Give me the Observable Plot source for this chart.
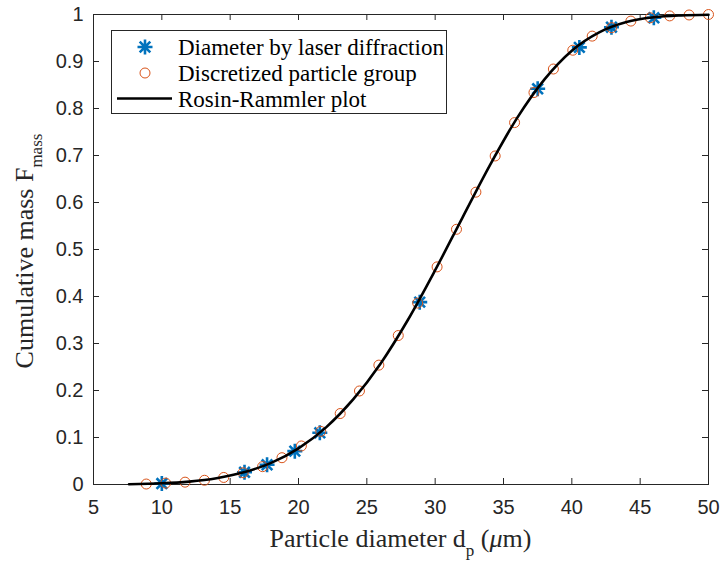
<!DOCTYPE html>
<html>
<head>
<meta charset="utf-8">
<script src="https://cdn.jsdelivr.net/npm/d3@7"></script>
<script src="https://cdn.jsdelivr.net/npm/@observablehq/plot@0.6"></script>
<style>
  html, body { margin: 0; padding: 0; background: white; }
  #chart { width: 725px; height: 565px; }
</style>
</head>
<body>
<div id="chart"></div>
<script>
// ---- Data ----
const xTicks = [5, 10, 15, 20, 25, 30, 35, 40, 45, 50];
const yTicks = [0, 0.1, 0.2, 0.3, 0.4, 0.5, 0.6, 0.7, 0.8, 0.9, 1];

// Diameter by laser diffraction (blue asterisks)
const laserX = [10.0, 16.05, 17.7, 19.73, 21.56, 28.87, 37.5, 40.55, 42.9, 46.0];
const laserY = [0.002, 0.026, 0.042, 0.071, 0.110, 0.388, 0.842, 0.930, 0.973, 0.993];

// Discretized particle group (orange open circles)
const groupX = [8.86, 10.28, 11.70, 13.12, 14.53, 15.95, 17.37, 18.79, 20.21, 21.63,
                23.05, 24.46, 25.88, 27.30, 28.72, 30.14, 31.56, 32.98, 34.39, 35.81,
                37.23, 38.65, 40.07, 41.49, 42.91, 44.32, 45.74, 47.16, 48.58, 50.00];
const groupY = [0.001, 0.003, 0.005, 0.009, 0.015, 0.025, 0.038, 0.057, 0.082, 0.113,
                0.151, 0.199, 0.254, 0.317, 0.386, 0.463, 0.543, 0.622, 0.699, 0.770,
                0.834, 0.884, 0.924, 0.954, 0.972, 0.986, 0.993, 0.997, 0.999, 1.000];

// Rosin-Rammler plot (black line)
const rrX = [7.6, 9, 10, 12, 14, 16, 18, 20, 22, 24, 26, 28, 30, 32, 34, 36, 38, 40, 42, 44, 46, 48, 50];
const rrY = [0.0006, 0.0015, 0.0025, 0.0062, 0.0134, 0.026, 0.046, 0.077, 0.121, 0.181, 0.257,
             0.350, 0.456, 0.568, 0.679, 0.780, 0.862, 0.923, 0.962, 0.984, 0.994, 0.998, 0.9995];

const legendLabels = ["Diameter by laser diffraction", "Discretized particle group", "Rosin-Rammler plot"];

// ---- Build tables ----
const laser = laserX.map((x, i) => ({x, y: laserY[i]}));
const group = groupX.map((x, i) => ({x, y: groupY[i]}));
const rr = rrX.map((x, i) => ({x, y: rrY[i]}));

// MATLAB-style 8-armed asterisk
const star8 = {
  draw(ctx, size) {
    const r = Math.sqrt(size / Math.PI);
    const d = r * Math.SQRT1_2;
    ctx.moveTo(-r, 0); ctx.lineTo(r, 0);
    ctx.moveTo(0, -r); ctx.lineTo(0, r);
    ctx.moveTo(-d, -d); ctx.lineTo(d, d);
    ctx.moveTo(-d, d); ctx.lineTo(d, -d);
  }
};

const W = 725, H = 565, mL = 93, mR = 17, mT = 14, mB = 81;
const axisColor = "#262626";
const blue = "#0072BD", orange = "#D95319";

const chart = Plot.plot({
  width: W, height: H,
  marginLeft: mL, marginRight: mR, marginTop: mT, marginBottom: mB,
  x: {domain: [5, 50]},
  y: {domain: [0, 1]},
  style: {fontFamily: "'Liberation Sans', Arial, sans-serif", fontSize: "20px", color: axisColor, background: "white"},
  marks: [
    Plot.axisX(xTicks, {tickSize: 0, tickPadding: 15, label: null, fontSize: 20, fill: axisColor}),
    Plot.axisY(yTicks, {tickSize: 0, tickPadding: 10, label: null, fontSize: 20, fill: axisColor, tickFormat: d => String(d)}),
    Plot.tickX(xTicks, {x: d => d, insetTop: H - mT - mB - 6, stroke: axisColor}),
    Plot.tickX(xTicks, {x: d => d, insetBottom: H - mT - mB - 6, stroke: axisColor}),
    Plot.tickY(yTicks, {y: d => d, insetRight: W - mL - mR - 6, stroke: axisColor}),
    Plot.tickY(yTicks, {y: d => d, insetLeft: W - mL - mR - 6, stroke: axisColor}),
    Plot.frame({stroke: axisColor, strokeWidth: 1}),
    Plot.dot(laser, {x: "x", y: "y", symbol: star8, r: 7.5, stroke: blue, strokeWidth: 2.6, fill: "none"}),
    Plot.dot(group, {x: "x", y: "y", r: 5, stroke: orange, strokeWidth: 1, fill: "none"}),
    Plot.line(rr, {x: "x", y: "y", stroke: "black", strokeWidth: 2.6, curve: "monotone-x"})
  ]
});

document.getElementById("chart").appendChild(chart);

// ---- Axis labels (with subscripts) and legend ----
const svg = d3.select(chart);
const serif = "'Liberation Serif', 'Times New Roman', serif";

const xl = svg.append("text")
  .attr("x", (mL + W - mR) / 2).attr("y", 547)
  .attr("text-anchor", "middle")
  .attr("font-family", serif).attr("font-size", 26).attr("fill", axisColor);
xl.append("tspan").text("Particle diameter d");
xl.append("tspan").attr("dy", 9).attr("font-size", 17).text("p");
xl.append("tspan").attr("dy", -9).text(" (");
xl.append("tspan").attr("font-style", "italic").text("\u03BC");
xl.append("tspan").text("m)");

const yl = svg.append("text")
  .attr("transform", `translate(33,${(mT + H - mB) / 2 + 2}) rotate(-90)`)
  .attr("text-anchor", "middle")
  .attr("font-family", serif).attr("font-size", 26).attr("fill", axisColor);
yl.append("tspan").text("Cumulative mass F");
yl.append("tspan").attr("dy", 9).attr("font-size", 17).text("mass");

const lg = svg.append("g");
lg.append("rect").attr("x", 111.5).attr("y", 30.5).attr("width", 335).attr("height", 83)
  .attr("fill", "white").attr("stroke", axisColor).attr("stroke-width", 1);
const rowsY = [47, 73, 98.5];
lg.append("path").attr("transform", `translate(145,${rowsY[0]})`)
  .attr("d", d3.symbol(star8, Math.PI * 7.5 * 7.5)())
  .attr("fill", "none").attr("stroke", blue).attr("stroke-width", 2.6);
lg.append("circle").attr("cx", 145).attr("cy", rowsY[1]).attr("r", 5)
  .attr("fill", "none").attr("stroke", orange).attr("stroke-width", 1);
lg.append("line").attr("x1", 117).attr("x2", 172).attr("y1", rowsY[2]).attr("y2", rowsY[2])
  .attr("stroke", "black").attr("stroke-width", 2.6);
legendLabels.forEach((t, i) => {
  lg.append("text").attr("x", 178).attr("y", rowsY[i] + 8)
    .attr("text-anchor", "start")
    .attr("font-family", serif).attr("font-size", 23).attr("fill", "#000").text(t);
});
</script>
</body>
</html>
